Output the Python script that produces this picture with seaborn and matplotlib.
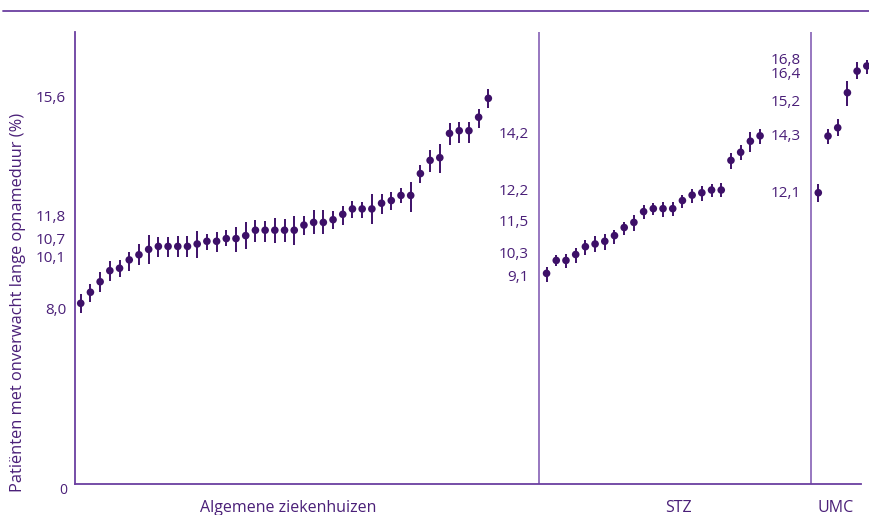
import numpy as np
import pandas as pd
import matplotlib
matplotlib.use("Agg")
import matplotlib.pyplot as plt
import seaborn as sns

# values (percent)
alg_val = [8.00, 8.41, 8.80, 9.21, 9.30, 9.61, 9.80, 10.00, 10.11, 10.11,
           10.11, 10.11, 10.20, 10.30, 10.30, 10.40, 10.40, 10.51, 10.71, 10.71,
           10.71, 10.71, 10.71, 10.90, 11.00, 11.00, 11.10, 11.30, 11.50, 11.50,
           11.50, 11.71, 11.81, 12.00, 12.00, 12.81, 13.30, 13.40, 14.30, 14.40,
           14.40, 14.90, 15.60]
alg_hi = [8.33, 8.72, 9.16, 9.56, 9.61, 9.90, 10.20, 10.53, 10.47, 10.47,
          10.50, 10.50, 10.69, 10.57, 10.64, 10.72, 10.84, 11.01, 11.09, 11.06,
          11.18, 11.11, 11.25, 11.24, 11.46, 11.46, 11.42, 11.61, 11.79, 11.77,
          12.04, 12.04, 12.11, 12.26, 12.51, 13.13, 13.70, 13.91, 14.67, 14.74,
          14.74, 15.22, 15.93]
alg_lo = [7.65, 8.06, 8.42, 8.81, 8.96, 9.21, 9.42, 9.45, 9.70, 9.70,
          9.70, 9.70, 9.67, 9.98, 9.90, 10.14, 9.90, 10.03, 10.26, 10.27,
          10.22, 10.26, 10.17, 10.53, 10.56, 10.56, 10.77, 10.92, 11.15, 11.18,
          10.95, 11.30, 11.47, 11.71, 11.39, 12.46, 12.88, 12.82, 13.88, 13.93,
          13.93, 14.51, 15.23]

stz_val = [9.11, 9.59, 9.59, 9.81, 10.10, 10.20, 10.30, 10.51, 10.81, 11.00,
           11.40, 11.51, 11.51, 11.51, 11.81, 12.01, 12.10, 12.20, 12.20, 13.30,
           13.60, 14.01, 14.21]
stz_hi = [9.36, 9.79, 9.83, 10.05, 10.35, 10.50, 10.56, 10.73, 11.00, 11.28,
          11.65, 11.71, 11.75, 11.75, 12.03, 12.24, 12.35, 12.41, 12.45, 13.59,
          13.87, 14.34, 14.45]
stz_lo = [8.80, 9.38, 9.32, 9.48, 9.79, 9.89, 9.98, 10.20, 10.53, 10.69,
          11.12, 11.28, 11.21, 11.25, 11.55, 11.71, 11.81, 11.96, 11.93, 12.99,
          13.32, 13.62, 13.90]

umc_val = [12.10, 14.20, 14.51, 15.81, 16.61, 16.80]
umc_hi = [12.42, 14.48, 14.82, 16.24, 16.93, 17.04]
umc_lo = [11.76, 13.90, 14.20, 15.31, 16.30, 16.52]

groups = ["Algemene ziekenhuizen", "STZ", "UMC"]
group_labels = [["15,6", "11,8", "10,7", "10,1", "8,0"],
                ["14,2", "12,2", "11,5", "10,3", "9,1"],
                ["16,8", "16,4", "15,2", "14,3", "12,1"]]
# where the labels sit on the value axis (they are nudged in the original)
label_pos = [[15.6, 11.19, 10.33, 9.66, 7.75],
             [14.25, 12.14, 10.99, 9.80, 8.95],
             [17.02, 16.47, 15.43, 14.17, 12.09]]

purple = "#3d1068"
line_purple = "#6b3fa0"
sep_purple = "#8560b5"
text_purple = "#4a1f78"

# slot index along x: groups are separated by empty slots
starts = [0, 48, 76]
frames = []
for g, v, lo, hi, s in zip(groups, [alg_val, stz_val, umc_val],
                           [alg_lo, stz_lo, umc_lo], [alg_hi, stz_hi, umc_hi], starts):
    frames.append(pd.DataFrame({"group": g, "pos": s + np.arange(len(v)),
                                "value": v, "lo": lo, "hi": hi}))
df = pd.concat(frames, ignore_index=True)

sns.set_theme(style="white")
plt.rcParams["font.family"] = ["Open Sans", "DejaVu Sans"]

fig = plt.figure(figsize=(8.7, 5.15), dpi=100)
ax = fig.add_axes([75 / 870, 1 - 484 / 515, (861 - 75) / 870, (484 - 32) / 515])

ax.vlines(df["pos"], df["lo"], df["hi"], color=purple, linewidth=1.4, clip_on=False, zorder=2)
sns.scatterplot(data=df, x="pos", y="value", color=purple, s=30, edgecolor="none",
                ax=ax, clip_on=False, zorder=3, legend=False)

ax.set_xlim(-0.59, 80.4)
ax.set_ylim(1.30, 18.06)
ax.set_xticks([])
ax.set_yticks([])
ax.set_xlabel("")
ax.set_ylabel("")

for side in ["top", "right"]:
    ax.spines[side].set_visible(False)
for side in ["left", "bottom"]:
    ax.spines[side].set_color(line_purple)
    ax.spines[side].set_linewidth(1.3)

# separators between hospital types
for xs in [47.25, 75.23]:
    ax.axvline(xs, color=sep_purple, linewidth=1.2)

# value labels next to each group
label_x = [-1.5, 46.2, 74.2]
for lx, labs, ys in zip(label_x, group_labels, label_pos):
    for lab, yv in zip(labs, ys):
        ax.text(lx, yv, lab, ha="right", va="center", fontsize=11,
                color=text_purple, clip_on=False)
ax.text(-1.4, 1.05, "0", ha="right", va="center", fontsize=10,
        color=text_purple, clip_on=False)

# group names below the axis
name_x = [21.4, 61.6, 77.8]
for nx, g in zip(name_x, groups):
    ax.text(nx, 0.40, g, ha="center", va="center", fontsize=11.5,
            color=text_purple, clip_on=False)

fig.text(18 / 870, 1 - 302 / 515, "Patiënten met onverwacht lange opnameduur (%)",
         rotation=90, ha="center", va="center", fontsize=11.8, color=text_purple)

# top rule
fig.add_artist(plt.Line2D([3 / 870, 1.0], [1 - 11 / 515] * 2, color=line_purple, linewidth=1.3))

fig.savefig("out.png", dpi=100)
